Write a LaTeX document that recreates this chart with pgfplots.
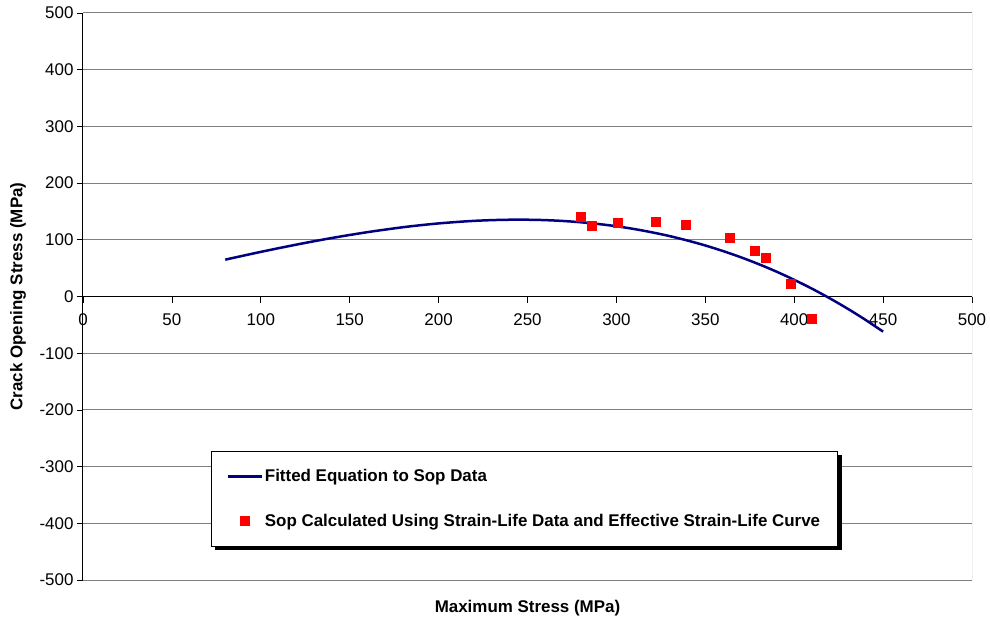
\documentclass[border=0pt]{standalone}
\usepackage{fontspec}
\setmainfont{Liberation Sans}
\usepackage{pgfplots}
\pgfplotsset{compat=1.18}
\definecolor{navyline}{HTML}{000080}
\definecolor{gridgray}{HTML}{808080}
\begin{document}
\begin{tikzpicture}
\begin{axis}[
  scale only axis, width=889bp, height=567bp,
  xmin=0, xmax=500, ymin=-500, ymax=500,
  axis x line=middle, axis y line=left,
  axis line style={black, line width=1bp, -},
  xtick={0,50,...,500}, ytick={-500,-400,...,500},
  hide obscured x ticks=false, hide obscured y ticks=false,
  tick align=outside, major tick length=6bp,
  tick style={black, line width=0.8bp},
  ymajorgrids, grid style={gridgray, line width=1bp},
  /pgf/number format/assume math mode=true,
  ticklabel style={font=\fontsize{17}{20}\selectfont},
  xticklabel style={yshift=-8bp},
  xlabel={\bfseries Maximum Stress (MPa)},
  ylabel={\bfseries Crack Opening Stress (MPa)},
  label style={font=\fontsize{17}{20}\selectfont},
  xlabel style={at={(axis description cs:0.5,-0.050)}, anchor=center},
  ylabel style={at={(axis description cs:-0.0731,0.5)}, anchor=center, rotate=0},
  legend image code/.code={\draw[mark repeat=2,mark phase=2,#1] plot coordinates {(0bp,0bp) (17bp,0bp) (34bp,0bp)};},
  legend style={name=legbox, at={(rel axis cs:0.1440,0.2275)}, anchor=north west,
    draw=black, line width=0.8bp, fill=white,
    font=\bfseries\fontsize{17}{20}\selectfont,
    row sep=27bp, inner xsep=15bp, inner ysep=16bp,
    nodes={inner sep=2bp}},
  legend cell align=left,
]
\addplot[navyline, line width=2.5bp, smooth] coordinates {
(80,65) (90,71.9) (100,78.7) (110,85.2) (120,91.5) (130,97.5) (140,103.2)
(150,108.5) (160,113.5) (170,118.0) (180,122.2) (190,125.8) (200,128.9)
(210,131.4) (220,133.4) (230,134.7) (240,135.4) (250,135.4) (260,134.7)
(270,133.2) (280,130.9) (290,127.8) (300,123.9) (310,119.0) (320,113.2)
(330,106.5) (340,98.7) (350,90.0) (360,80.1) (370,69.2) (380,57.1)
(390,43.9) (400,29.4) (410,13.8) (420,-3.2) (430,-21.4) (440,-41.0) (450,-62)
};
\addlegendentry{Fitted Equation to Sop Data}
\addplot[only marks, mark=square*, mark size=4.5bp, mark options={draw=red, fill=red, line width=0pt}] coordinates {
(280,140) (286,124) (301,130) (322,132) (339,126) (364,104)
(378,80) (384,68) (398,22) (410,-40)
};
\addlegendentry{Sop Calculated Using Strain-Life Data and Effective Strain-Life Curve}
\draw[gridgray, line width=1bp] (rel axis cs:1,0) -- (rel axis cs:1,1);
\end{axis}
\fill[black] ([xshift=0.4bp,yshift=-4bp]legbox.north east) rectangle ([xshift=4bp,yshift=-4bp]legbox.south east);
\fill[black] ([xshift=4bp,yshift=-0.4bp]legbox.south west) rectangle ([xshift=4bp,yshift=-4bp]legbox.south east);
\pgfresetboundingbox
\path[use as bounding box] ([xshift=-83bp,yshift=-43bp]current axis.south west) rectangle ([xshift=18bp,yshift=13bp]current axis.north east);
\end{tikzpicture}
\end{document}
